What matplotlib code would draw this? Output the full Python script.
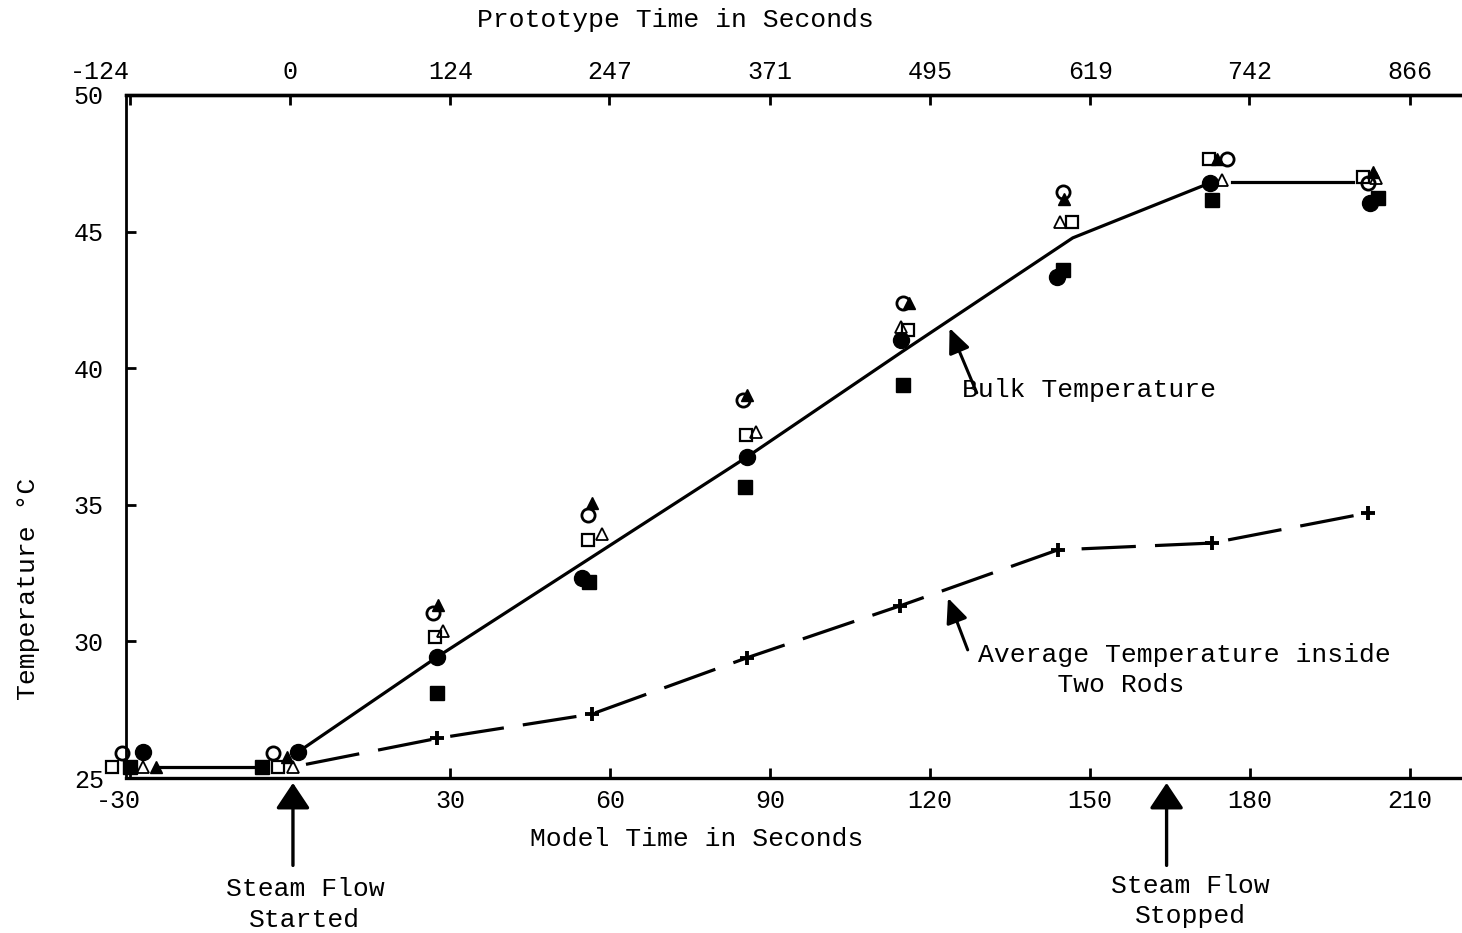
import matplotlib
matplotlib.use("Agg")
import matplotlib.pyplot as plt
import matplotlib.transforms as mtransforms

# ---------------- data (model time in seconds, temperature in deg C) ----------------
fc_x = [-27.6, 1.5, 27.6, 54.8, 85.7, 114.6, 143.8, 172.5, 202.5]
fc_y = [25.95, 25.95, 29.43, 32.32, 36.75, 41.03, 43.34, 46.78, 46.05]
oc_x = [-31.5, -3.2, 26.8, 55.9, 84.9, 115.0, 145.0, 175.7, 202.1]
oc_y = [25.9, 25.9, 31.04, 34.63, 38.84, 42.39, 46.45, 47.66, 46.78]
fs_x = [-30.0, -5.3, 27.6, 56.1, 85.3, 115.0, 145.0, 173.0, 204.0]
fs_y = [25.4, 25.4, 28.1, 32.17, 35.65, 39.4, 43.6, 46.16, 46.23]
os_x = [-33.4, -2.2, 27.2, 55.9, 85.5, 115.9, 146.6, 172.3, 201.2]
os_y = [25.4, 25.4, 30.16, 33.7, 37.55, 41.4, 45.35, 47.66, 47.0]
ft_x = [-25.1, -0.6, 27.7, 56.6, 85.7, 116.0, 145.2, 173.8, 203.1]
ft_y = [25.4, 25.77, 31.33, 35.07, 39.02, 42.4, 46.2, 47.66, 47.18]
ot_x = [-27.6, 0.6, 28.7, 58.5, 87.4, 114.6, 144.4, 174.8, 203.6]
ot_y = [25.4, 25.4, 30.38, 33.93, 37.66, 41.5, 45.35, 46.9, 46.96]

bulk_x = [1.5, 27.6, 85.7, 115.0, 146.8, 171.5]
bulk_y = [25.95, 29.43, 36.75, 40.63, 44.77, 46.7]
pre_x = [-24.4, -6.2]
pre_y = [25.4, 25.4]
post_x = [176.6, 199.3]
post_y = [46.8, 46.8]

rod_x = [3.0, 27.6, 56.6, 85.7, 114.4, 144.0, 172.9, 202.1]
rod_y = [25.5, 26.45, 27.34, 29.4, 31.3, 33.35, 33.6, 34.7]

model_ticks = [-30, 30, 60, 90, 120, 150, 180, 210]
model_labels = ["-30", "30", "60", "90", "120", "150", "180", "210"]
proto_ticks = [-124, 0, 124, 247, 371, 495, 619, 742, 866]
proto_labels = ["-124", "0", "124", "247", "371", "495", "619", "742", "866"]
temp_ticks = [25, 30, 35, 40, 45, 50]
temp_labels = ["25", "30", "35", "40", "45", "50"]
scale = 4.124

plt.rcParams['font.family'] = ['Liberation Mono', 'DejaVu Sans Mono']

W, H = 1462, 933
fig = plt.figure(figsize=(W / 100, H / 100), dpi=100)
x0, x1, y0, y1 = 126, 1462, 95, 778
ax = fig.add_axes([x0 / W, 1 - y1 / H, (x1 - x0) / W, (y1 - y0) / H])
ax.set_xlim(-30.75, 219.8)
ax.set_ylim(25, 50)

ax.spines['left'].set_linewidth(2.0)
for s in ['top', 'bottom']:
    ax.spines[s].set_linewidth(2.4)
ax.spines['right'].set_visible(False)

ax.set_xticks(model_ticks, model_labels)
ax.set_yticks(temp_ticks, temp_labels)
ax.tick_params(axis='x', direction='in', length=7, width=2, pad=8, labelsize=18)
ax.tick_params(axis='y', direction='in', length=7, width=2, pad=16, labelsize=18)
shift = mtransforms.ScaledTranslation(-0.12, 0, fig.dpi_scale_trans)
for lab in ax.get_xticklabels():
    if lab.get_text() == "-30":
        lab.set_transform(lab.get_transform() + shift)

sec = ax.secondary_xaxis('top', functions=(lambda m: m * scale, lambda p: p / scale))
sec.set_xticks(proto_ticks, proto_labels)
sec.tick_params(axis='x', direction='in', length=7, width=2, pad=8, labelsize=18)
sec.spines['top'].set_linewidth(2.4)
for lab in sec.get_xticklabels():
    if lab.get_text() == "-124":
        lab.set_horizontalalignment('right')

# lines
lw = 2.3
ax.plot(bulk_x, bulk_y, color='k', lw=lw, zorder=2)
ax.plot(pre_x, pre_y, color='k', lw=lw, zorder=2)
ax.plot(post_x, post_y, color='k', lw=lw, zorder=2)
ax.plot(rod_x, rod_y, color='k', lw=lw, dashes=(17, 6), zorder=2)
ax.plot(rod_x[1:], rod_y[1:], ls='none', marker='+', ms=10, mew=2.8, color='k', zorder=3)

# markers
kw = dict(ls='none', clip_on=False, zorder=4, color='k')
ax.plot(fc_x, fc_y, marker='o', ms=11.5, **kw)
ax.plot(fs_x, fs_y, marker='s', ms=9.5, **kw)
ax.plot(ft_x, ft_y, marker='^', ms=8.5, **kw)
ax.plot(oc_x, oc_y, marker='o', ms=9.5, mfc='none', mew=2.0, **kw)
ax.plot(os_x, os_y, marker='s', ms=9.0, mfc='none', mew=1.6, **kw)
ax.plot(ot_x, ot_y, marker='^', ms=8.5, mfc='none', mew=1.3, **kw)

# axis labels
ax.set_xlabel("Model Time in Seconds", fontsize=19)
ax.xaxis.set_label_coords(0.427, -0.072)
ax.set_ylabel("Temperature °C", fontsize=19)
ax.yaxis.set_label_coords(-0.064, 0.277)
ax.text(0.411, 1.11, "Prototype Time in Seconds", transform=ax.transAxes,
        ha='center', va='center', fontsize=19)

# annotations
big = dict(arrowstyle='-|>,head_length=0.45,head_width=0.3', lw=2.4, color='k',
           mutation_scale=35, shrinkA=0, shrinkB=0)
ax.annotate("", xy=(0.56, 24.82), xytext=(0.56, 21.8), arrowprops=big,
            annotation_clip=False)
ax.annotate("", xy=(164.4, 24.82), xytext=(164.4, 21.8), arrowprops=big,
            annotation_clip=False)
ax.text(2.8, 20.38, "Steam Flow\nStarted", ha='center', va='center', fontsize=19,
        linespacing=1.35, clip_on=False)
ax.text(168.8, 20.5, "Steam Flow\nStopped", ha='center', va='center', fontsize=19,
        linespacing=1.35, clip_on=False)

small = dict(arrowstyle='-|>,head_length=0.5,head_width=0.22', lw=2.2, color='k',
             mutation_scale=30, shrinkA=0, shrinkB=0)
ax.annotate("", xy=(123.7, 41.47), xytext=(128.8, 39.1), arrowprops=small)
ax.text(126.0, 39.2, "Bulk Temperature", ha='left', va='center', fontsize=19)
ax.annotate("", xy=(123.4, 31.59), xytext=(127.1, 29.69), arrowprops=small)
ax.text(129.0, 28.95, "Average Temperature inside\n     Two Rods", ha='left', va='center',
        fontsize=19, linespacing=1.3, multialignment='left')

fig.savefig("out.png", dpi=100)
